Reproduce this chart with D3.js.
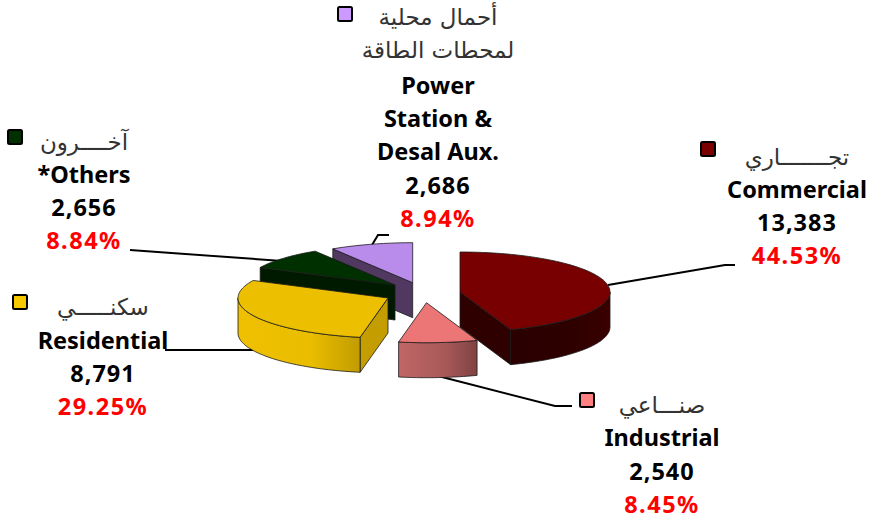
<!DOCTYPE html>
<html>
<head>
<meta charset="utf-8">
<script src="https://cdn.jsdelivr.net/npm/d3@7"></script>
<style>
    html, body { margin: 0; padding: 0; background: #fff; }
    svg { display: block; }
    text { text-anchor: middle; }
    .ar { font-family: "DejaVu Sans", sans-serif; font-size: 23px; fill: #333; }
    .en { font-family: "Noto Sans", sans-serif; font-size: 23.5px; font-weight: 700; fill: #000; }
    .num { font-family: "Noto Sans", sans-serif; font-size: 23.5px; font-weight: 700; fill: #000; letter-spacing: 1px; }
    .pct { font-family: "Noto Sans", sans-serif; font-size: 23.5px; font-weight: 700; fill: #ff0000; letter-spacing: 1.5px; }
</style>
</head>
<body>
<div id="chart"></div>
<script>
const categories = ["Commercial", "Industrial", "Residential", "Others", "Power Station & Desal Aux."];
const values = [13383, 2540, 8791, 2656, 2686];
const percents = ["44.53%", "8.45%", "29.25%", "8.84%", "8.94%"];
const arabicLabels = [
    ["تجـــــــاري"],
    ["صنـــاعي"],
    ["سكنـــــي"],
    ["آخــــرون"],
    ["أحمال محلية", "لمحطات  الطاقة"]
];
const englishLabels = [
    ["Commercial"],
    ["Industrial"],
    ["Residential"],
    ["*Others"],
    ["Power", "Station &", "Desal Aux."]
];

const topColors = ["#780000", "#ec7676", "#ecc000", "#003000", "#b98cec"];
const cutColors = ["#2e0000", "#804040", "#c49e00", "#001a00", "#503860"];
const rimLeft = ["#2a0000", "#c06666", "#eec000", "#001a00", "#503860"];
const rimMid = ["#2e0000", "#a85858", "#eabd00", "#001a00", "#503860"];
const rimRight = ["#3a0000", "#804242", "#c09c00", "#001a00", "#503860"];
const legendColors = ["#7a0000", "#ff8080", "#f5c800", "#003000", "#cc99ff"];

const width = 874, height = 518;
const cx = 420, cy = 290, rx = 150, ry = 40, depth = 35;

// how far each slice is pulled out of the pie, on screen
const explodeX = [40, 6.5, -32, -25, -7.3];
const explodeY = [2, 12.7, 8, -5, -7.3];
// back to front
const drawOrder = [4, 3, 2, 1, 0];

// label block centre, first baseline, legend box, leader line
const labelX = [797, 662, 103, 84, 438];
const labelY = [165, 413, 315, 150, 25];
const englishShift = [-0.5, 0, 0.5, -0.5, 2];
const lineStep = 33.3;
const boxX = [701, 580, 13, 8, 338];
const boxY = [142, 393, 295, 130, 7];
const leaders = [
    [[608, 285], [725, 265], [735, 265]],
    [[438, 376], [555, 406], [572, 406]],
    [[165, 350], [255, 350]],
    [[130, 250], [282, 261]],
    [[372, 245], [378, 235], [389, 235]]
];

const svg = d3.select("#chart").append("svg")
    .attr("width", width)
    .attr("height", height);

const defs = svg.append("defs");
values.forEach((v, i) => {
    const g = defs.append("linearGradient").attr("id", "rim" + i);
    g.append("stop").attr("offset", "0%").attr("stop-color", rimLeft[i]);
    g.append("stop").attr("offset", "60%").attr("stop-color", rimMid[i]);
    g.append("stop").attr("offset", "100%").attr("stop-color", rimRight[i]);
});

const slices = d3.pie().sort(null)(values);
const line = d3.line();

// Leaders sit behind the pie
svg.append("g").selectAll("path")
    .data(leaders)
    .join("path")
    .attr("d", line)
    .attr("fill", "none")
    .attr("stroke", "#000")
    .attr("stroke-width", 2);

function project(a, i, r, dz) {
    return [
        cx + explodeX[i] + r * rx * Math.sin(a),
        cy + explodeY[i] - r * ry * Math.cos(a) + dz
    ];
}

function arcPoints(a0, a1, i, dz) {
    const n = Math.max(2, Math.ceil((a1 - a0) * 40));
    return d3.range(n + 1).map(k => project(a0 + (a1 - a0) * k / n, i, 1, dz));
}

const pie3d = svg.append("g");

drawOrder.forEach(i => {
    const s = slices[i];
    const g = pie3d.append("g")
        .attr("stroke", "#1a1a1a")
        .attr("stroke-width", 0.8)
        .attr("stroke-linejoin", "round");
    const apex = project(0, i, 0, 0);
    const apexLow = project(0, i, 0, depth);

    // cut faces that look toward the viewer
    if (Math.sin(s.startAngle) < -1e-6) {
        g.append("path")
            .attr("d", line([apex, project(s.startAngle, i, 1, 0), project(s.startAngle, i, 1, depth), apexLow]) + "Z")
            .attr("fill", cutColors[i]);
    }
    if (Math.sin(s.endAngle) > 1e-6) {
        g.append("path")
            .attr("d", line([apex, project(s.endAngle, i, 1, 0), project(s.endAngle, i, 1, depth), apexLow]) + "Z")
            .attr("fill", cutColors[i]);
    }

    // outer rim, front half only
    const from = Math.max(s.startAngle, Math.PI / 2);
    const to = Math.min(s.endAngle, Math.PI * 1.5);
    if (to > from) {
        const up = arcPoints(from, to, i, 0);
        const down = arcPoints(from, to, i, depth).reverse();
        g.append("path")
            .attr("d", line(up.concat(down)) + "Z")
            .attr("fill", `url(#rim${i})`);
    }

    // top face
    g.append("path")
        .attr("d", line([apex].concat(arcPoints(s.startAngle, s.endAngle, i, 0))) + "Z")
        .attr("fill", topColors[i]);
});

// Labels
categories.forEach((name, i) => {
    const lab = svg.append("g").attr("class", "label").attr("data-name", name);
    let y = labelY[i];
    arabicLabels[i].forEach((t, k) => {
        lab.append("text").attr("class", "ar").attr("x", labelX[i]).attr("y", y + k * -0.5).text(t);
        y += lineStep;
    });
    y += englishShift[i];
    englishLabels[i].forEach(t => {
        lab.append("text").attr("class", "en").attr("x", labelX[i]).attr("y", y).text(t);
        y += lineStep;
    });
    lab.append("text").attr("class", "num").attr("x", labelX[i]).attr("y", y).text(d3.format(",")(values[i]));
    y += lineStep;
    lab.append("text").attr("class", "pct").attr("x", labelX[i]).attr("y", y).text(percents[i]);

    lab.append("rect")
        .attr("x", boxX[i])
        .attr("y", boxY[i])
        .attr("width", 14)
        .attr("height", 14)
        .attr("rx", 1.5)
        .attr("fill", legendColors[i])
        .attr("stroke", "#000")
        .attr("stroke-width", 2);
});
</script>
</body>
</html>
